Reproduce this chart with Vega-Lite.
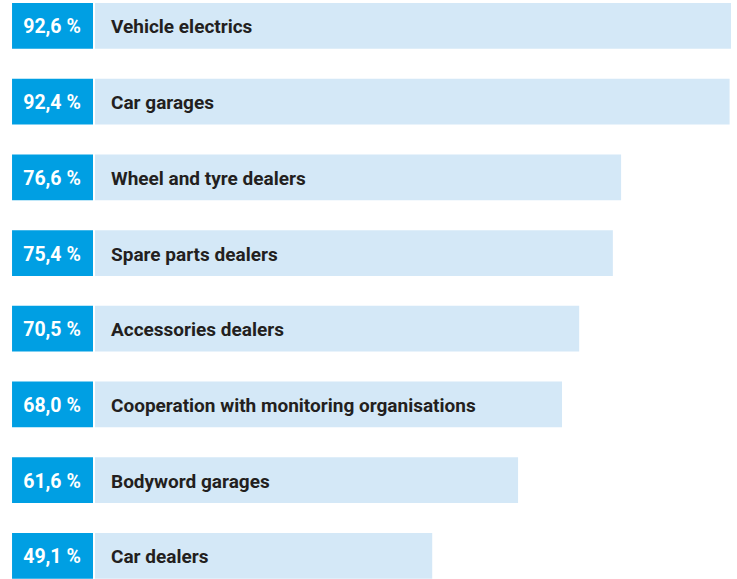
{
  "$schema": "https://vega.github.io/schema/vega-lite/v6.json",
  "width": 737,
  "height": 579,
  "padding": 0,
  "autosize": {"type": "none"},
  "background": "white",
  "config": {"view": {"stroke": null}},
  "data": {
    "values": [
      {"category": "Vehicle electrics", "value": 92.6},
      {"category": "Car garages", "value": 92.4},
      {"category": "Wheel and tyre dealers", "value": 76.6},
      {"category": "Spare parts dealers", "value": 75.4},
      {"category": "Accessories dealers", "value": 70.5},
      {"category": "Cooperation with monitoring organisations", "value": 68.0},
      {"category": "Bodyword garages", "value": 61.6},
      {"category": "Car dealers", "value": 49.1}
    ]
  },
  "transform": [
    {"calculate": "replace(format(datum.value, '.1f'), '.', ',') + ' %'", "as": "label"}
  ],
  "encoding": {
    "y": {
      "field": "category",
      "type": "nominal",
      "sort": null,
      "axis": null,
      "scale": {"paddingInner": 0.396, "paddingOuter": 0.022, "align": 0.91}
    }
  },
  "layer": [
    {
      "mark": {"type": "bar", "color": "#d4e8f7"},
      "encoding": {
        "x": {
          "field": "value",
          "type": "quantitative",
          "scale": {"domain": [-13.832, 93.476], "nice": false, "zero": false},
          "axis": null
        },
        "x2": {"datum": 0}
      }
    },
    {
      "mark": {"type": "bar", "color": "#009fe3"},
      "encoding": {
        "x": {"datum": -12.08, "type": "quantitative"},
        "x2": {"datum": -0.29}
      }
    },
    {
      "mark": {"type": "text", "color": "white", "font": "Roboto", "fontWeight": "bold", "fontSize": 19.5, "align": "center", "baseline": "middle", "dy": 1.5},
      "encoding": {
        "x": {"datum": -6.26, "type": "quantitative"},
        "text": {"field": "label"}
      }
    },
    {
      "mark": {"type": "text", "color": "#231f20", "font": "Roboto", "fontWeight": "bold", "fontSize": 19, "align": "left", "baseline": "middle", "dy": 1.5},
      "encoding": {
        "x": {"datum": 2.33, "type": "quantitative"},
        "text": {"field": "category"}
      }
    }
  ]
}
